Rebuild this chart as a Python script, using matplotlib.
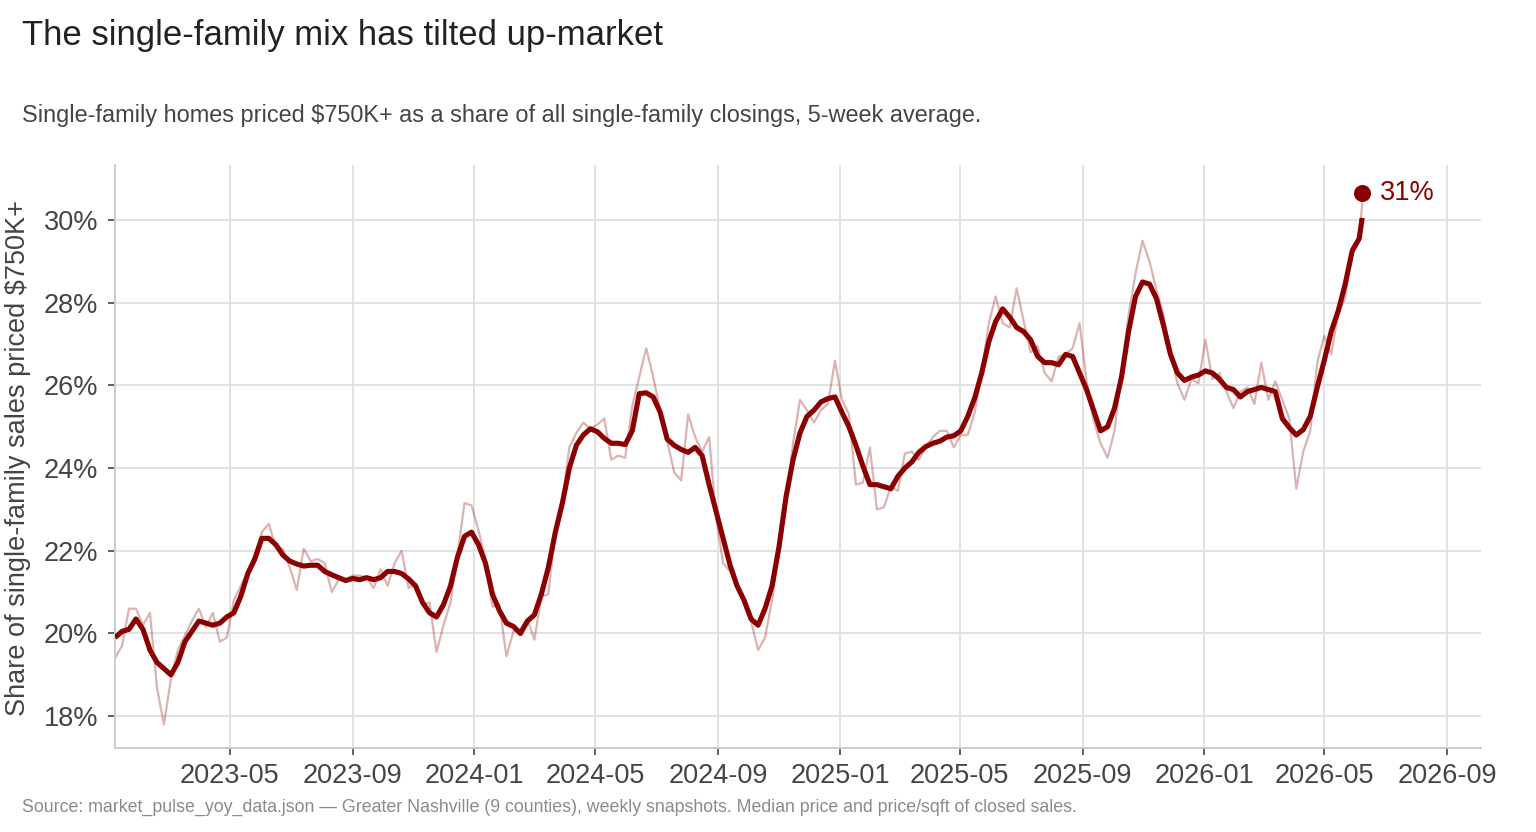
import matplotlib
matplotlib.use("Agg")
import matplotlib.pyplot as plt
import matplotlib.dates as mdates
import matplotlib.ticker as mticker
import pandas as pd

plt.rcParams['font.family'] = ['Liberation Sans', 'DejaVu Sans']

# weekly snapshots (last one is a partial week)
dates = list(pd.date_range('2023-01-06', periods=179, freq='7D')) + [pd.Timestamp('2026-06-08')]

# share of SF closings priced $750K+ (%), weekly
raw_share = [
    19.4, 19.7, 20.6, 20.6, 20.2, 20.5, 18.7, 17.8, 18.9, 19.6,
    19.95, 20.3, 20.6, 20.15, 20.5, 19.8, 19.9, 20.8, 21.15, 21.5,
    21.9, 22.45, 22.65, 22.1, 22.05, 21.6, 21.05, 22.05, 21.75, 21.8,
    21.7, 21.0, 21.3, 21.3, 21.4, 21.4, 21.35, 21.1, 21.55, 21.15,
    21.7, 22.0, 21.1, 21.2, 20.7, 20.75, 19.55, 20.2, 20.75, 21.9,
    23.15, 23.1, 22.5, 21.8, 20.65, 20.7, 19.45, 20.05, 20.1, 20.35,
    19.85, 20.9, 20.95, 22.5, 23.2, 24.5, 24.85, 25.1, 24.95, 25.05,
    25.2, 24.2, 24.3, 24.25, 25.5, 26.2, 26.9, 26.2, 25.4, 24.65,
    23.9, 23.7, 25.3, 24.75, 24.4, 24.75, 22.8, 21.7, 21.5, 21.2,
    20.8, 20.3, 19.6, 19.9, 20.8, 22.0, 23.1, 24.6, 25.65, 25.4,
    25.1, 25.4, 25.55, 26.6, 25.65, 25.3, 23.6, 23.65, 24.5, 23.0,
    23.05, 23.55, 23.45, 24.35, 24.4, 24.2, 24.5, 24.75, 24.9, 24.9,
    24.5, 24.8, 24.8, 25.35, 26.3, 27.5, 28.15, 27.5, 27.4, 28.35,
    27.55, 26.8, 26.95, 26.3, 26.1, 26.7, 26.75, 26.9, 27.5, 26.1,
    25.15, 24.6, 24.25, 24.9, 26.35, 27.7, 28.7, 29.5, 29.0, 28.3,
    27.7, 26.8, 26.05, 25.65, 26.15, 26.05, 27.1, 26.15, 26.3, 25.85,
    25.45, 25.85, 25.95, 25.55, 26.55, 25.65, 26.1, 25.65, 25.2, 23.5,
    24.4, 24.9, 26.55, 27.2, 26.75, 27.75, 28.1, 29.35, 29.55, 30.4,
]

# 5-week average (%)
avg_share = [
    19.9, 20.05, 20.1, 20.35, 20.1, 19.6, 19.3, 19.15, 19.0, 19.3,
    19.8, 20.05, 20.3, 20.25, 20.2, 20.25, 20.4, 20.5, 20.9, 21.45,
    21.8, 22.3, 22.3, 22.15, 21.9, 21.75, 21.68, 21.63, 21.65, 21.65,
    21.5, 21.42, 21.35, 21.28, 21.33, 21.3, 21.35, 21.3, 21.35, 21.5,
    21.5, 21.45, 21.32, 21.15, 20.75, 20.5, 20.4, 20.7, 21.15, 21.85,
    22.35, 22.45, 22.15, 21.7, 20.95, 20.55, 20.25, 20.17, 20.0, 20.3,
    20.45, 20.95, 21.6, 22.45, 23.15, 24.0, 24.55, 24.8, 24.95, 24.88,
    24.72, 24.6, 24.6, 24.57, 24.9, 25.8, 25.82, 25.72, 25.35, 24.7,
    24.55, 24.45, 24.38, 24.5, 24.3, 23.6, 22.95, 22.3, 21.65, 21.15,
    20.8, 20.35, 20.2, 20.6, 21.15, 22.1, 23.3, 24.2, 24.85, 25.25,
    25.4, 25.6, 25.68, 25.72, 25.35, 25.0, 24.55, 24.05, 23.6, 23.6,
    23.55, 23.5, 23.8, 24.0, 24.15, 24.38, 24.52, 24.6, 24.65, 24.75,
    24.78, 24.9, 25.25, 25.7, 26.3, 27.05, 27.55, 27.85, 27.65, 27.4,
    27.3, 27.1, 26.7, 26.55, 26.55, 26.5, 26.75, 26.7, 26.3, 25.9,
    25.4, 24.9, 25.0, 25.45, 26.2, 27.3, 28.15, 28.5, 28.45, 28.1,
    27.45, 26.75, 26.3, 26.12, 26.2, 26.25, 26.35, 26.3, 26.15, 25.95,
    25.9, 25.72, 25.85, 25.9, 25.95, 25.9, 25.85, 25.2, 24.98, 24.8,
    24.93, 25.25, 25.95, 26.6, 27.3, 27.8, 28.45, 29.25, 29.55, 30.05,
]

latest_value = 30.65
latest_label = "31%"

RED = '#8b0000'
TXT = '#444444'

fig = plt.figure(figsize=(15.36, 8.32), dpi=100)
ax = fig.add_axes([115/1536, 1 - 748/832, (1481 - 115)/1536, (748 - 165)/832])

ax.plot(dates, raw_share, color=RED, alpha=0.3, lw=1.6, zorder=2)
ax.plot(dates, avg_share, color=RED, lw=3.7, solid_joinstyle='round',
        solid_capstyle='butt', zorder=3)
ax.scatter([dates[-1]], [latest_value], s=150, color=RED, zorder=4, linewidths=0)
ax.annotate(latest_label, (dates[-1], latest_value), xytext=(13, 0),
            textcoords='offset points', va='center', ha='left',
            color=RED, fontsize=19.5)

ax.set_xlim(dates[0], pd.Timestamp('2026-10-05'))
ax.set_ylim(17.23, 31.33)

ax.xaxis.set_major_locator(mdates.MonthLocator(bymonth=[1, 5, 9]))
ax.xaxis.set_major_formatter(mdates.DateFormatter('%Y-%m'))
ax.yaxis.set_major_locator(mticker.MultipleLocator(2))
ax.yaxis.set_major_formatter(mticker.FuncFormatter(lambda v, p: f'{v:.0f}%'))

ax.grid(True, color='#e2e2e2', lw=1.4, zorder=0)
ax.set_axisbelow(True)
for s in ['top', 'right']:
    ax.spines[s].set_visible(False)
for s in ['left', 'bottom']:
    ax.spines[s].set_color('#cccccc')
    ax.spines[s].set_linewidth(1.4)

ax.tick_params(axis='both', which='major', length=5, width=1.3, color='#555555',
               labelcolor=TXT, labelsize=19.5)
ax.tick_params(axis='y', pad=7)
ax.tick_params(axis='x', pad=6)

fig.text(18/1536, 1 - 458/832, 'Share of single-family sales priced $750K+',
         rotation=90, ha='center', va='center', fontsize=19.5, color=TXT)

fig.text(22/1536, 1 - 45/832, 'The single-family mix has tilted up-market',
         fontsize=25, color='#222222', va='baseline', ha='left')
fig.text(22/1536, 1 - 122/832,
         'Single-family homes priced $750K+ as a share of all single-family closings, 5-week average.',
         fontsize=16.9, color=TXT, va='baseline', ha='left')
fig.text(22/1536, 1 - 812/832,
         'Source: market_pulse_yoy_data.json \u2014 Greater Nashville (9 counties), weekly snapshots. '
         'Median price and price/sqft of closed sales.',
         fontsize=12.8, color='#8a8a8a', va='baseline', ha='left')

fig.savefig('out.png', dpi=100)
